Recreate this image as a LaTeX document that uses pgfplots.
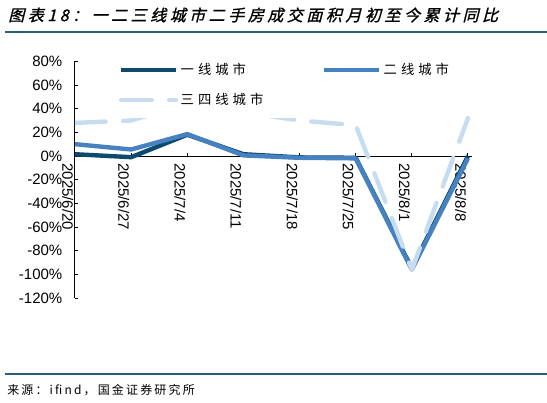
\documentclass[border=0pt]{standalone}
\usepackage{fontspec}
\setmainfont{Liberation Sans}
\newfontfamily\cjk[LetterSpace=30]{Noto Sans CJK SC}
\newfontfamily\cjksrc[LetterSpace=18]{Noto Sans CJK SC}
\newfontfamily\cjktitle[FakeSlant=0.25,FakeBold=1.2,LetterSpace=22]{Noto Sans CJK SC}
\usepackage{pgfplots}
\pgfplotsset{compat=1.18}
\definecolor{c1}{HTML}{0D4B6E}
\definecolor{c2}{HTML}{4682C2}
\definecolor{c3}{HTML}{C8DCF0}
\definecolor{rulec}{HTML}{2A5C7E}
\begin{document}
\begin{tikzpicture}[x=0.75pt,y=-0.75pt]
\useasboundingbox (0,0) rectangle (547,403);
\node[anchor=west, inner sep=0] at (8,15) {\cjktitle\fontsize{12}{14}\selectfont 图表18：一二三线城市二手房成交面积月初至今累计同比};
\draw[rulec, line width=1.5pt] (5,32) -- (547,32);
\draw[rulec, line width=1.5pt] (5,373.5) -- (547,373.5);
\node[anchor=west, inner sep=0] at (7,390) {\cjksrc\fontsize{9}{11}\selectfont 来源：ifind，国金证券研究所};
\begin{axis}[
  at={(56.25pt,-223.5pt)}, anchor=south west,
  scale only axis, width=297.5pt, height=177.5pt,
  xmin=0, xmax=7.066, ymin=-120, ymax=80,
  axis x line=middle, axis y line=left,
  axis line style={black, line width=0.75pt, -},
  hide obscured x ticks=false, hide obscured y ticks=false,
  xtick={0,1,2,3,4,5,6,7},
  xticklabels={2025/6/20,2025/6/27,2025/7/4,2025/7/11,2025/7/18,2025/7/25,2025/8/1,2025/8/8},
  ytick={-120,-100,-80,-60,-40,-20,0,20,40,60,80},
  yticklabels={-120\%,-100\%,-80\%,-60\%,-40\%,-20\%,0\%,20\%,40\%,60\%,80\%},
  xtick align=inside, ytick align=inside,
  major tick length=2.5pt,
  tick style={black, line width=0.75pt},
  tick label style={font=\fontsize{11.25}{13}\selectfont},
  xticklabel style={rotate=-90, anchor=west, yshift=-5.5pt, xshift=2pt},
  yticklabel style={xshift=-6pt},
  legend columns=2,
  legend cell align=left,
  legend image code/.code={\draw[#1] (0pt,0pt) -- (41pt,0pt);},
  legend style={draw=none, fill=white, at={(0.1,1.04)}, anchor=north west,
    font=\cjk\fontsize{10}{12}\selectfont,
    inner ysep=6.5pt,
    /tikz/every even column/.append style={column sep=42pt},
    row sep=8.5pt},
  every axis plot/.append style={line width=3.3pt, line join=round},
]
\addplot[c1] coordinates {(0,1.5) (1,-1) (2,18) (3,1.5) (4,-1.2) (5,-1.5) (6,-95) (7,0)};
\addplot[c2] coordinates {(0,10) (1,5.5) (2,18.5) (3,0.5) (4,-1.5) (5,-2) (6,-96) (7,-2)};
\addplot[c3, line cap=round, dash pattern=on 23pt off 13pt] coordinates {(0,28) (1,30) (2,44) (3,37) (4,30) (5,26) (6,-96) (7,32)};
\legend{一线城市,二线城市,三四线城市}
\end{axis}
\end{tikzpicture}
\end{document}
